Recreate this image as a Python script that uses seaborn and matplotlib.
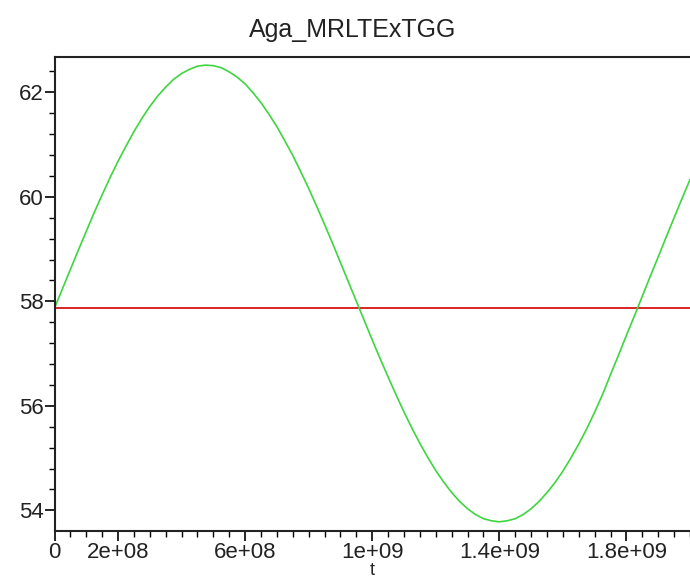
import matplotlib
matplotlib.use("Agg")
import matplotlib.pyplot as plt
import matplotlib.ticker as mticker
import seaborn as sns
import pandas as pd

# t values (every 2.5e7) and curve values
t_vals = [i * 2.5e7 for i in range(81)]
curve_vals = [57.87, 58.24, 58.61, 58.98, 59.34, 59.70, 60.04, 60.37, 60.68, 60.97,
              61.25, 61.50, 61.73, 61.93, 62.10, 62.25, 62.36, 62.44, 62.50, 62.52,
              62.51, 62.47, 62.39, 62.29, 62.16, 61.99, 61.80, 61.58, 61.34, 61.07,
              60.79, 60.48, 60.16, 59.82, 59.47, 59.11, 58.74, 58.37, 58.00, 57.63,
              57.26, 56.90, 56.55, 56.21, 55.88, 55.57, 55.28, 55.01, 54.76, 54.54,
              54.34, 54.17, 54.03, 53.92, 53.84, 53.80, 53.78, 53.80, 53.84, 53.92,
              54.03, 54.17, 54.34, 54.53, 54.75, 55.00, 55.27, 55.56, 55.88, 56.22,
              56.60, 56.97, 57.35, 57.72, 58.10, 58.48, 58.85, 59.23, 59.60, 59.97,
              60.33]
ref_level = 57.87
x_tick_vals = [0, 2e8, 6e8, 1e9, 1.4e9, 1.8e9]
x_tick_labels = ["0", "2e+08", "6e+08", "1e+09", "1.4e+09", "1.8e+09"]
y_tick_vals = [54, 56, 58, 60, 62]
y_tick_labels = ["54", "56", "58", "60", "62"]
title = "Aga_MRLTExTGG"
x_label = "t"

sns.set_style("white")
plt.rcParams['font.family'] = ['Liberation Sans', 'DejaVu Sans']

df = pd.DataFrame({"t": t_vals, "v": curve_vals})
df_ref = pd.DataFrame({"t": [t_vals[0], t_vals[-1]], "v": [ref_level, ref_level]})

fig = plt.figure(figsize=(6.9, 5.82), dpi=100)
ax = fig.add_axes([0.079, 0.0876, 0.921, 0.8153])

sns.lineplot(data=df_ref, x="t", y="v", ax=ax, color="#d40000", linewidth=1.2)
sns.lineplot(data=df, x="t", y="v", ax=ax, color="#3ed63e", linewidth=1.2,
             solid_joinstyle="round")

ax.set_xlim(0, 2e9)
ax.set_ylim(53.604, 62.685)

ax.set_xticks(x_tick_vals)
ax.set_xticklabels(x_tick_labels)
ax.xaxis.set_minor_locator(mticker.MultipleLocator(5e7))
ax.set_yticks(y_tick_vals)
ax.set_yticklabels(y_tick_labels)
ax.yaxis.set_minor_locator(mticker.MultipleLocator(0.4))

ax.tick_params(axis="both", which="major", direction="out", length=7, width=1.2,
               labelsize=16, pad=1, color="black", labelcolor="#222222")
ax.tick_params(axis="both", which="minor", direction="out", length=4, width=1.0,
               color="black")
ax.tick_params(axis="x", which="both", bottom=True)
ax.tick_params(axis="y", which="both", left=True)

for side in ["left", "bottom", "top"]:
    ax.spines[side].set_visible(True)
    ax.spines[side].set_color("#222222")
    ax.spines[side].set_linewidth(1.5)
ax.spines["right"].set_visible(False)

ax.set_xlabel(x_label, fontsize=13, labelpad=0)
ax.xaxis.set_label_coords(0.5, -0.066)
ax.set_ylabel("")
fig.text(352.5 / 690, 1 - 30 / 582, title, ha="center", va="center",
         fontsize=18, color="#222222")

fig.savefig("out.png", dpi=100)
